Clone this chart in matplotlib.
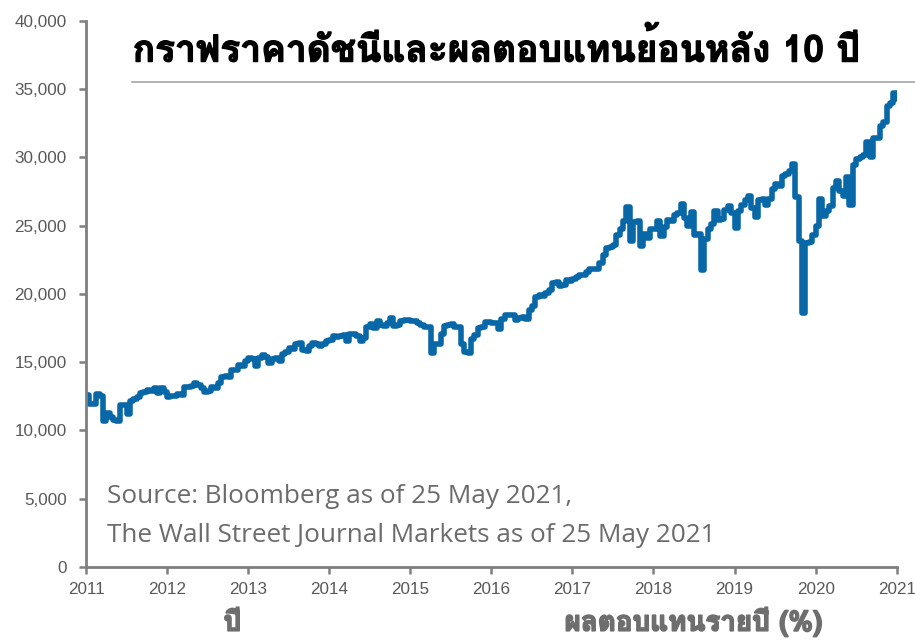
import numpy as np
import matplotlib
matplotlib.use('Agg')
import matplotlib.pyplot as plt
import matplotlib.patheffects as pe
from matplotlib import font_manager, ft2font

# index level, two readings per month (late May 2011 -> late May 2021)
vals_2011 = [12600, 11950, 11930, 12650, 12500, 10720, 11300, 11000, 10770, 10700,
             11900, 11900, 11230, 12180, 12290]
vals_2012 = [12460, 12760, 12800, 12980, 12920, 13080, 12720, 13090, 12850, 12450, 12550, 12500,
             12650, 12620, 13200, 13150, 13250, 13460, 13350, 13100, 12800, 12900, 13150, 13140]
vals_2013 = [13470, 13900, 13990, 13900, 14400, 14450, 14800, 14700, 15100, 15300, 15240, 14750,
             15300, 15550, 15400, 14950, 15200, 15300, 15100, 15570, 15760, 16070, 15970, 16360]
vals_2014 = [16440, 15880, 15800, 16200, 16420, 16360, 16170, 16360, 16580, 16600, 16950, 16820,
             16900, 16960, 16550, 17080, 17070, 16950, 16540, 16800, 17600, 17810, 17500, 18030]
vals_2015 = [17740, 17670, 17870, 18220, 17660, 17720, 18050, 18080, 18100, 18040, 18000, 17890,
             17760, 17570, 17610, 15670, 16330, 16310, 17080, 17650, 17760, 17810, 17570, 17550]
vals_2016 = [16350, 15770, 15660, 16700, 17000, 17520, 17580, 17980, 17930, 17850, 17860, 17400,
             18150, 18490, 18490, 18450, 18080, 18260, 18330, 18170, 18800, 19150, 19760, 19930]
vals_2017 = [19860, 20070, 20270, 20820, 20900, 20600, 20650, 20990, 20940, 21080, 21270, 21400,
             21400, 21610, 21840, 21810, 21800, 22300, 22830, 23330, 23420, 23560, 24330, 24750]
vals_2018 = [25370, 26390, 23860, 25300, 25330, 23530, 24400, 24080, 24740, 24750, 25320, 24250,
             24920, 25410, 25310, 25790, 25920, 26560, 25600, 24980, 25990, 24290, 24420, 21790]
vals_2019 = [24000, 24740, 25100, 26090, 25450, 25520, 26160, 26460, 25940, 24820, 26060, 26550,
             26860, 27140, 26290, 25630, 26910, 26970, 26500, 26960, 27680, 28070, 27880, 28620]
vals_2020 = [28820, 28990, 29550, 27080, 23850, 18590, 23720, 23780, 24330, 24995, 26990, 25745,
             26080, 26470, 27790, 28250, 27530, 27170, 28590, 26500, 29420, 29870, 29999, 30200]
vals_2021 = [31100, 30000, 31440, 31400, 32300, 32620, 33800, 33980, 34740, 34310]

years = list(range(2011, 2022))
yticks = list(range(0, 40001, 5000))

title = 'กราฟราคาดัชนีและผลตอบแทนย้อนหลัง 10 ปี'
source_1 = 'Source: Bloomberg as of 25 May 2021,'
source_2 = 'The Wall Street Journal Markets as of 25 May 2021'
label_left = 'ปี'
label_right = 'ผลตอบแทนรายปี (%)'

LINE = '#0867a6'
GREY = '#7f7f7f'
TXT = '#595959'


def thai_family(want_bold):
    # first installed face that really has Thai glyphs
    hits = []
    for f in font_manager.fontManager.ttflist:
        try:
            cmap = ft2font.FT2Font(f.fname).get_charmap()
        except Exception:
            continue
        if 0x0E01 in cmap:
            hits.append(f)
    if not hits:
        return ['DejaVu Sans']
    hits.sort(key=lambda f: abs((f.weight if isinstance(f.weight, int) else 400) - (700 if want_bold else 400)))
    return [hits[0].name, 'DejaVu Sans']


values = np.array(vals_2011 + vals_2012 + vals_2013 + vals_2014 + vals_2015 + vals_2016
                  + vals_2017 + vals_2018 + vals_2019 + vals_2020 + vals_2021, dtype=float)
x = np.linspace(years[0], years[-1], len(values))

thai_bold = thai_family(True)
fatten = [pe.withStroke(linewidth=1.0, foreground='black')]

fig = plt.figure(figsize=(9.15, 6.41), dpi=100)
ax = fig.add_axes([0.094, 0.1154, 0.886, 0.852])

ax.plot(x, values, color=LINE, lw=4.0, drawstyle='steps-post',
        solid_joinstyle='round', solid_capstyle='round')

ax.set_xlim(years[0], years[-1])
ax.set_ylim(0, 40000)
ax.set_xticks(years)
ax.set_xticklabels([str(y) for y in years])
ax.set_yticks(yticks)
ax.set_yticklabels([f'{v:,}' for v in yticks])
ax.tick_params(colors=GREY, labelcolor=TXT, labelsize=12.3, width=1.8, length=5,
               direction='out')
ax.tick_params(axis='y', pad=9)
ax.tick_params(axis='x', pad=6)
for s in ('top', 'right'):
    ax.spines[s].set_visible(False)
for s in ('left', 'bottom'):
    ax.spines[s].set_color(GREY)
    ax.spines[s].set_linewidth(2)
for lab in ax.get_xticklabels() + ax.get_yticklabels():
    lab.set_family(['Liberation Sans', 'DejaVu Sans'])

fig.text(0.145, 0.904, title, fontsize=26.7, fontweight='bold', color='black',
         family=thai_bold, ha='left', va='baseline', path_effects=fatten)
fig.add_artist(plt.Line2D([0.144, 1.0], [0.872, 0.872], color='#a6a6a6', lw=1.2))

src_font = dict(fontsize=18.8, color='#6b6b6b', family=['Open Sans', 'DejaVu Sans'],
                ha='left', va='baseline', transform=ax.transAxes)
ax.text(0.026, 0.117, source_1, **src_font)
ax.text(0.026, 0.046, source_2, **src_font)

grey_fat = [pe.withStroke(linewidth=1.2, foreground='#6e6e6e')]
fig.text(0.254, 0.016, label_left, fontsize=20, fontweight='bold', color='#6e6e6e',
         family=thai_bold, ha='center', va='baseline', path_effects=grey_fat)
fig.text(0.758, 0.016, label_right, fontsize=20, fontweight='bold', color='#6e6e6e',
         family=thai_bold, ha='center', va='baseline', path_effects=grey_fat)

fig.savefig('out.png', dpi=100)
